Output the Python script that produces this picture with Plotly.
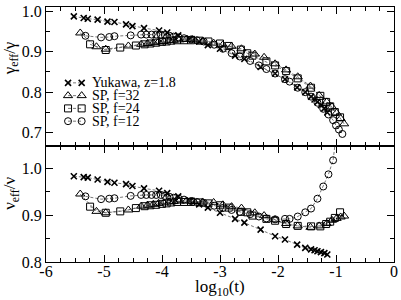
import plotly.graph_objects as go
from plotly.subplots import make_subplots

# ---- data (log10 t, ratio) ----
yuk_x = [-5.52, -5.35, -5.28, -5.11, -4.94, -4.82, -4.62, -4.51, -4.31, -4.05, -3.91, -3.72,
         -3.52, -3.36, -3.21, -3.00, -2.74, -2.58, -2.30, -2.05, -1.88, -1.67, -1.53, -1.43,
         -1.37, -1.32, -1.26, -1.20, -1.15]
yuk_gamma = [0.987, 0.983, 0.981, 0.979, 0.974, 0.973, 0.967, 0.963, 0.958, 0.952, 0.947, 0.940,
             0.932, 0.925, 0.916, 0.907, 0.890, 0.882, 0.862, 0.846, 0.832, 0.812, 0.800, 0.789,
             0.782, 0.776, 0.768, 0.760, 0.750]
yuk_nu = [0.983, 0.981, 0.980, 0.976, 0.971, 0.969, 0.966, 0.962, 0.957, 0.952, 0.947, 0.940,
          0.931, 0.923, 0.916, 0.905, 0.892, 0.884, 0.869, 0.855, 0.848, 0.837, 0.830, 0.827,
          0.825, 0.823, 0.821, 0.819, 0.816]

f32_x = [-5.41, -5.13, -4.97, -4.58, -4.36, -4.25, -4.15, -4.06, -3.97, -3.88, -3.80, -3.70,
         -3.58, -3.45, -3.30, -3.11, -2.95, -2.80, -2.63, -2.40, -2.24, -2.05, -1.86, -1.66,
         -1.44, -1.29, -1.16, -1.07, -0.99, -0.92, -0.86]
f32_gamma = [0.946, 0.912, 0.906, 0.914, 0.918, 0.920, 0.922, 0.924, 0.925, 0.927, 0.928, 0.929,
             0.930, 0.929, 0.926, 0.921, 0.917, 0.913, 0.907, 0.894, 0.886, 0.870, 0.855, 0.838,
             0.815, 0.792, 0.776, 0.764, 0.749, 0.735, 0.722]
f32_nu = [0.945, 0.908, 0.905, 0.911, 0.919, 0.921, 0.923, 0.925, 0.926, 0.928, 0.929, 0.930,
          0.930, 0.929, 0.928, 0.927, 0.922, 0.918, 0.915, 0.905, 0.899, 0.890, 0.882, 0.877,
          0.874, 0.877, 0.882, 0.889, 0.893, 0.896, 0.898]

f24_x = [-5.24, -4.97, -4.72, -4.45, -4.30, -4.20, -4.10, -4.00, -3.92, -3.84, -3.74, -3.62,
         -3.50, -3.35, -3.20, -3.00, -2.85, -2.64, -2.53, -2.44, -2.20, -2.05, -1.86, -1.66,
         -1.43, -1.27, -1.17, -1.10, -1.02, -0.93]
f24_gamma = [0.918, 0.904, 0.910, 0.915, 0.918, 0.920, 0.922, 0.924, 0.925, 0.927, 0.928, 0.928,
             0.928, 0.927, 0.925, 0.920, 0.914, 0.905, 0.896, 0.890, 0.876, 0.866, 0.852, 0.834,
             0.811, 0.791, 0.776, 0.765, 0.751, 0.738]
f24_nu = [0.918, 0.905, 0.908, 0.915, 0.919, 0.921, 0.922, 0.924, 0.925, 0.927, 0.928, 0.928,
          0.928, 0.927, 0.925, 0.921, 0.916, 0.907, 0.906, 0.899, 0.892, 0.888, 0.881, 0.877,
          0.876, 0.876, 0.881, 0.886, 0.894, 0.906]

f12_x = [-5.32, -5.05, -4.91, -4.82, -4.54, -4.36, -4.27, -4.18, -4.10, -4.02, -3.95, -3.87,
         -3.80, -3.71, -3.62, -3.50, -3.40, -3.28, -3.10, -2.95, -2.80, -2.66, -2.48, -2.33,
         -2.20, -2.05, -1.88, -1.80, -1.66, -1.53, -1.43, -1.32, -1.22, -1.13, -1.05, -1.00,
         -0.95, -0.89]
f12_gamma = [0.939, 0.935, 0.936, 0.938, 0.940, 0.942, 0.942, 0.942, 0.942, 0.942, 0.941, 0.939,
             0.937, 0.935, 0.933, 0.930, 0.928, 0.925, 0.917, 0.907, 0.896, 0.888, 0.877, 0.866,
             0.857, 0.846, 0.832, 0.826, 0.811, 0.800, 0.789, 0.774, 0.759, 0.745, 0.731, 0.718,
             0.708, 0.697]
f12_nu = [0.940, 0.934, 0.935, 0.936, 0.941, 0.943, 0.943, 0.943, 0.943, 0.943, 0.941, 0.939,
          0.937, 0.935, 0.933, 0.930, 0.928, 0.926, 0.920, 0.915, 0.911, 0.907, 0.902, 0.897,
          0.893, 0.891, 0.892, 0.892, 0.897, 0.906, 0.914, 0.935, 0.961, 0.987, 1.017, 1.070,
          1.120, 1.180]

series_names = ["Yukawa, z=1.8", "SP, f=32", "SP, f=24", "SP, f=12"]
x_ticks = [-6, -5, -4, -3, -2, -1, 0]
x_tick_labels = ["-6", "-5", "-4", "-3", "-2", "-1", "0"]
y_titles = ["γ<sub>eff</sub>/γ", "ν<sub>eff</sub>/ν"]
x_title = "log<sub>10</sub>(t)"

# ---- layout helpers (legend placement in top-panel axis units) ----
LEG_X0, LEG_X1, LEG_TX = -5.62, -5.385, -5.24
LEG_Y0, LEG_DY = 0.823, 0.0315

FONT = "Liberation Serif, Times New Roman, serif"
fig = make_subplots(rows=2, cols=1, shared_xaxes=True, vertical_spacing=0,
                    row_heights=[0.544, 0.456])

styles = [
    dict(symbol="x-thin-open", size=6, line=dict(width=1.6, color="black")),
    dict(symbol="triangle-up-open", size=8, line=dict(width=1, color="black")),
    dict(symbol="square-open", size=7, line=dict(width=1, color="black")),
    dict(symbol="circle-open", size=7, line=dict(width=1, color="black")),
]
data = [(yuk_x, yuk_gamma, yuk_nu), (f32_x, f32_gamma, f32_nu),
        (f24_x, f24_gamma, f24_nu), (f12_x, f12_gamma, f12_nu)]
ln = dict(color="#555555", width=0.8, dash="3px,2px")

for i, (name, st, (xs, g, n)) in enumerate(zip(series_names, styles, data)):
    fig.add_trace(go.Scatter(x=xs, y=g, mode="lines+markers", name=name,
                             marker=dict(color="black", **st), line=ln,
                             showlegend=False), row=1, col=1)
    fig.add_trace(go.Scatter(x=xs, y=n, mode="lines+markers", name=name,
                             marker=dict(color="black", **st), line=ln,
                             showlegend=False), row=2, col=1)
    # custom compact legend entry
    ly = LEG_Y0 - i * LEG_DY
    fig.add_trace(go.Scatter(x=[LEG_X0, LEG_X1], y=[ly, ly], mode="lines+markers",
                             marker=dict(color="black", **st), line=ln,
                             showlegend=False, hoverinfo="skip"), row=1, col=1)
    fig.add_annotation(x=LEG_TX, y=ly, text=name, showarrow=False, xanchor="left",
                       yanchor="middle", xref="x", yref="y",
                       font=dict(family=FONT, size=14, color="black"))

axis_common = dict(showline=True, linecolor="black", linewidth=1, mirror="ticks",
                   ticks="inside", ticklen=7, tickcolor="black", tickwidth=1,
                   showgrid=False, zeroline=False, ticklabeloverflow="allow",
                   tickfont=dict(family=FONT, size=16, color="black"))

fig.update_xaxes(range=[-6, 0], tickvals=x_ticks, ticktext=x_tick_labels,
                 minor=dict(dtick=0.25, ticks="inside", ticklen=4, tickcolor="black"),
                 **axis_common)
fig.update_xaxes(showticklabels=False, row=1, col=1)
fig.update_xaxes(ticklabelstandoff=-5, row=2, col=1)

fig.update_yaxes(dtick=0.1, tickformat=".1f",
                 minor=dict(dtick=0.05, ticks="inside", ticklen=4, tickcolor="black"),
                 **axis_common)
fig.update_yaxes(range=[0.668, 1.01], tick0=0.7, row=1, col=1)
fig.update_yaxes(range=[0.8, 1.048], tick0=0.8, row=2, col=1)

# axis titles as annotations (pixel-exact placement)
dom_top = fig.layout.yaxis.domain
dom_bot = fig.layout.yaxis2.domain
for txt, dom, ys in zip(y_titles, [dom_top, dom_bot], [18, 10]):
    fig.add_annotation(x=0, y=(dom[0] + dom[1]) / 2, xref="paper", yref="paper",
                       text=txt, textangle=-90, showarrow=False, xanchor="center",
                       yanchor="middle", xshift=-35, yshift=ys,
                       font=dict(family=FONT, size=17, color="black"))
fig.add_annotation(x=0.5, y=0, xref="paper", yref="paper", text=x_title, showarrow=False,
                   xanchor="center", yanchor="middle", yshift=-26,
                   font=dict(family=FONT, size=17, color="black"))

fig.update_layout(
    width=401, height=300,
    margin=dict(l=46, r=4, t=3, b=38),
    paper_bgcolor="white", plot_bgcolor="white",
    font=dict(family=FONT, color="black"),
    showlegend=False,
)

fig.write_html("out.html", config={"displayModeBar": False},
               post_script="document.body.style.margin='0';")
